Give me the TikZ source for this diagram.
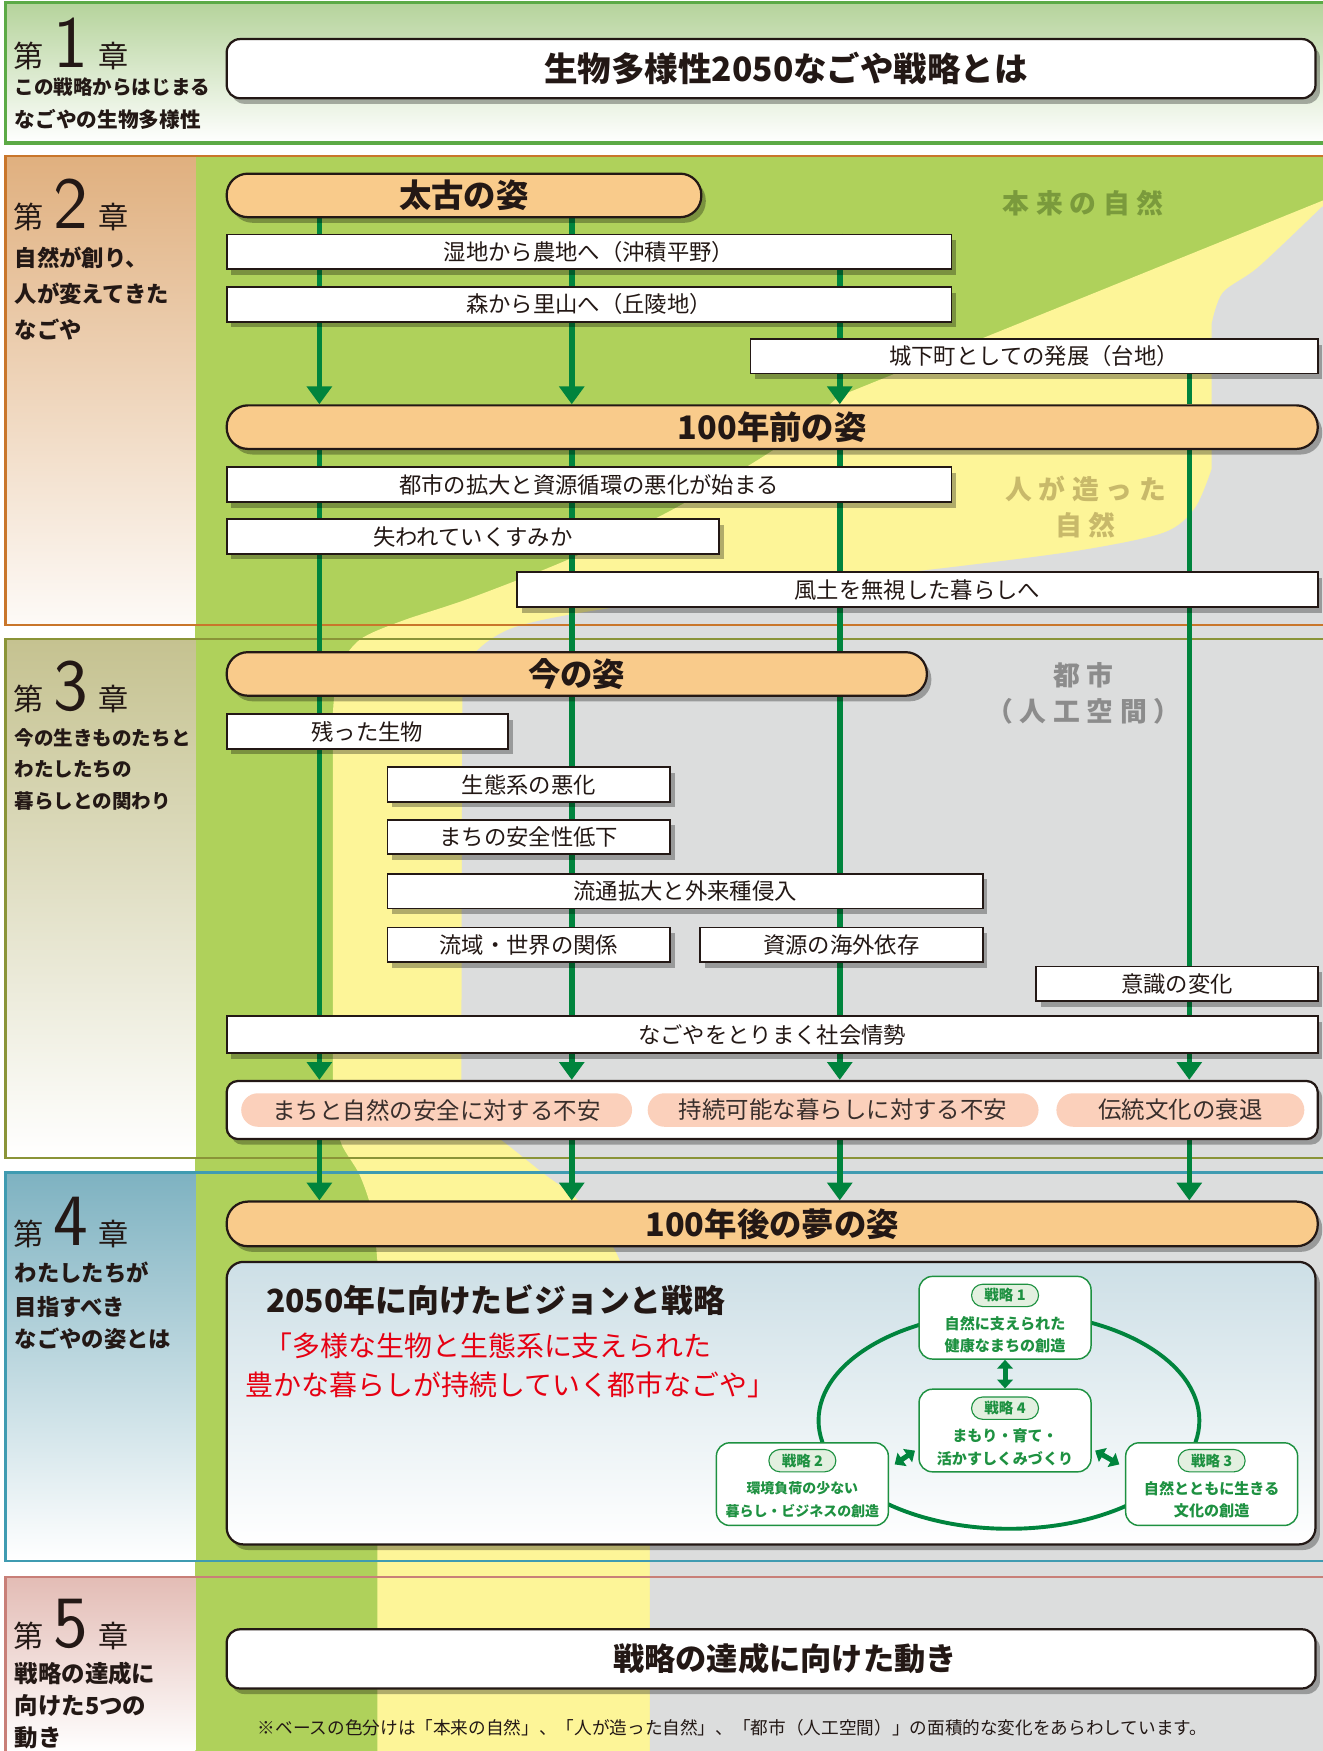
\documentclass[tikz,border=0pt]{standalone}
\usepackage{fontspec}
\setmainfont{Noto Sans CJK JP}
\usetikzlibrary{arrows.meta,shadows}
\pgfdeclarelayer{backdrop}
\pgfdeclarelayer{flowlayer}
\pgfsetlayers{backdrop,flowlayer,main}

\definecolor{natgreen}{HTML}{AFD15B}
\definecolor{manyellow}{HTML}{FDF598}
\definecolor{citygray}{HTML}{DCDDDD}
\definecolor{flowgreen}{HTML}{00843D}
\definecolor{stageorange}{HTML}{F9CB8B}
\definecolor{worrypink}{HTML}{FBD0BB}
\definecolor{inkdark}{HTML}{231815}
\definecolor{chaponeline}{HTML}{5CAA46}
\definecolor{chaponefill}{HTML}{B5D39B}
\definecolor{chaptwoline}{HTML}{C9762B}
\definecolor{chaptwofill}{HTML}{E0B07F}
\definecolor{chapthreeline}{HTML}{8A9438}
\definecolor{chapthreefill}{HTML}{C5C290}
\definecolor{chapfourline}{HTML}{3F9BB1}
\definecolor{chapfourfill}{HTML}{7EB2C1}
\definecolor{chapfiveline}{HTML}{C87F78}
\definecolor{chapfivefill}{HTML}{E3BCB5}
\definecolor{stratgreen}{HTML}{1E9141}
\definecolor{stratpale}{HTML}{E3F0E0}
\definecolor{visionred}{HTML}{E60012}
\definecolor{visionblue}{HTML}{CDDFE6}
\definecolor{natlabel}{HTML}{7A9A3C}
\definecolor{manlabel}{HTML}{C8B96A}
\definecolor{citylabel}{HTML}{8C8C8C}

\newcommand\fsz[1]{\fontsize{#1}{#1}\selectfont}

\tikzset{
  boxshadow/.style={drop shadow={shadow xshift=4pt,shadow yshift=-5pt,fill=black,opacity=.3}},
  stagebox/.style={draw=inkdark,line width=2pt,fill=stageorange,rounded corners=19pt,
    minimum height=39pt,inner sep=0pt,boxshadow,font=\bfseries\fsz{29},text=inkdark},
  eventbox/.style={draw=inkdark,line width=1.6pt,fill=white,minimum height=31pt,
    inner sep=0pt,boxshadow,font=\fsz{20},text=inkdark},
  titlebox/.style={draw=inkdark,line width=2pt,fill=white,rounded corners=12pt,
    minimum height=53pt,inner sep=0pt,boxshadow,font=\bfseries\fsz{29},text=inkdark},
  worrypill/.style={fill=worrypink,rounded corners=15pt,minimum height=30pt,
    inner sep=0pt,font=\fsz{21},text=inkdark!90},
  flow/.style={line width=5pt,flowgreen},
  flowtip/.style={flow,-{Triangle[width=22pt,length=16pt]}},
  chaphead/.style={anchor=base west,inner sep=0pt,text=inkdark},
  chaptext/.style={anchor=west,inner sep=0pt,font=\bfseries\fsz{#1},text=inkdark},
  chaptext/.default=20,
  arealabel/.style={align=center,inner sep=0pt,
    font=\bfseries\fontsize{24}{32}\selectfont\addfontfeature{LetterSpace=25}},
  stratbox/.style={draw=stratgreen,line width=1.3pt,fill=white,rounded corners=12pt,
    minimum width=154pt,minimum height=74pt,inner sep=0pt},
  stratlabel/.style={draw=stratgreen,line width=1pt,fill=stratpale,rounded corners=10pt,
    minimum width=60pt,minimum height=20pt,inner sep=0pt,font=\bfseries\fsz{13},text=stratgreen},
  strattext/.style={align=center,inner sep=0pt,font=\bfseries\fontsize{13.5}{20}\selectfont,
    text=stratgreen},
  stratlink/.style={line width=4.5pt,flowgreen,
    {Triangle[width=14pt,length=8pt]}-{Triangle[width=14pt,length=8pt]}}
}

\begin{document}
\begin{tikzpicture}[x=1pt,y=-1pt]
\useasboundingbox (0,0) rectangle (1184,1568);

\begin{pgfonlayer}{backdrop}
  % chapter 1 band
  \shade[top color=chaponefill,bottom color=white] (5,2) rectangle (1190,128);
  \draw[chaponeline,line width=3pt] (5,2) rectangle (1190,128);
  % base colours
  \fill[natgreen] (175,140) rectangle (1190,1570);
  \fill[manyellow] (1186,179) -- (751,355)
    -- plot[smooth] coordinates {(751,355) (697,400) (601,457) (509,501) (420,536) (360,556) (322,573) (303,600) (298,640)}
    -- (298,995)
    -- plot[smooth] coordinates {(298,995) (306,1025) (322,1052) (333,1085) (338,1130)}
    -- (338,1570) -- (1190,1570) -- cycle;
  \fill[citygray] (1190,185)
    -- plot[smooth] coordinates {(1184,185) (1127,239) (1095,262) (1085,290)}
    -- (1085,420)
    -- plot[smooth] coordinates {(1085,420) (1070,455) (1042,477) (966,493) (851,508) (700,525) (537,546) (460,562) (425,585) (414,615)}
    -- (413,995)
    -- plot[smooth] coordinates {(413,995) (430,1010) (449,1021) (487,1051) (518,1075) (552,1122) (575,1190) (582,1260)}
    -- (582,1570) -- (1190,1570) -- cycle;
  % chapter panels
  \shade[top color=chaptwofill,bottom color=chaptwofill!6] (5,140) rectangle (175,560);
  \shade[top color=chapthreefill,bottom color=white] (5,572) rectangle (175,1037);
  \shade[top color=chapfourfill,bottom color=white] (5,1050) rectangle (175,1398);
  \shade[top color=chapfivefill,bottom color=white] (5,1412) rectangle (175,1570);
  \draw[chaptwoline,line width=2pt] (5,140) rectangle (1190,560);
  \draw[chapthreeline,line width=2pt] (5,572) rectangle (1190,1037);
  \draw[chapfourline,line width=2pt] (5,1050) rectangle (1190,1398);
  \draw[chapfiveline,line width=2pt] (5,1412) rectangle (1190,1575);
  % area names
  \node[arealabel,text=natlabel] (natname) at (970,182) {本来の自然};
  \node[arealabel,text=manlabel] (manname) at (972,454) {人が造った\\自然};
  \node[arealabel,text=citylabel] (cityname) at (970,621) {都市\\（人工空間）};
\end{pgfonlayer}

% chapter headings
\node[chaphead] (chone) at (12,60) {{\fsz{27}第}\hspace{9pt}{\sffamily\fsz{66}1}\hspace{9pt}{\fsz{27}章}};
\node[chaptext=17.5] (chonea) at (13,78) {この戦略からはじまる};
\node[chaptext=18.5] (choneb) at (13,107) {なごやの生物多様性};
\node[chaphead] (chtwo) at (12,205) {{\fsz{27}第}\hspace{9pt}{\sffamily\fsz{66}2}\hspace{9pt}{\fsz{27}章}};
\node[chaptext] (chtwoa) at (13,231) {自然が創り、};
\node[chaptext] (chtwob) at (13,263) {人が変えてきた};
\node[chaptext] (chtwoc) at (13,295) {なごや};
\node[chaphead] (chthree) at (12,636) {{\fsz{27}第}\hspace{9pt}{\sffamily\fsz{66}3}\hspace{9pt}{\fsz{27}章}};
\node[chaptext=17.5] (chthreea) at (13,661) {今の生きものたちと};
\node[chaptext=17.5] (chthreeb) at (13,689) {わたしたちの};
\node[chaptext=17.5] (chthreec) at (13,717) {暮らしとの関わり};
\node[chaphead] (chfour) at (12,1115) {{\fsz{27}第}\hspace{9pt}{\sffamily\fsz{66}4}\hspace{9pt}{\fsz{27}章}};
\node[chaptext] (chfoura) at (13,1140) {わたしたちが};
\node[chaptext] (chfourb) at (13,1170) {目指すべき};
\node[chaptext] (chfourc) at (13,1199) {なごやの姿とは};
\node[chaphead] (chfive) at (12,1475) {{\fsz{27}第}\hspace{9pt}{\sffamily\fsz{66}5}\hspace{9pt}{\fsz{27}章}};
\node[chaptext=21] (chfivea) at (13,1499) {戦略の達成に};
\node[chaptext=21] (chfiveb) at (13,1527) {向けた5つの};
\node[chaptext=21] (chfivec) at (13,1556) {動き};

% columns of the flows
\coordinate (colA) at (286,0);
\coordinate (colB) at (512,0);
\coordinate (colC) at (752,0);
\coordinate (colD) at (1065,0);

\node[titlebox,minimum width=975pt,font=\bfseries\fsz{30}] (goal) at (690.5,61.5) {\hspace*{27pt}生物多様性2050なごや戦略とは};

\node[stagebox,minimum width=425pt] (ancient) at (415.5,175) {太古の姿};
\node[eventbox,minimum width=649pt] (wetland) at (527.5,225.5) {湿地から農地へ（沖積平野）};
\node[eventbox,minimum width=649pt] (forest) at (527.5,272.5) {森から里山へ（丘陵地）};
\node[eventbox,minimum width=508pt] (castle) at (926,319) {城下町としての発展（台地）};
\node[stagebox,minimum width=977pt] (century) at (691.5,382.5) {100年前の姿};
\node[eventbox,minimum width=649pt] (urban) at (527.5,434) {都市の拡大と資源循環の悪化が始まる};
\node[eventbox,minimum width=441pt] (habitat) at (423.5,480.5) {失われていくすみか};
\node[eventbox,minimum width=717pt] (climate) at (821.5,528) {風土を無視した暮らしへ};
\node[stagebox,minimum width=627pt] (present) at (516.5,603.5) {今の姿};
\node[eventbox,minimum width=252pt] (remain) at (329,655) {残った生物};
\node[eventbox,minimum width=253pt] (ecosys) at (473.5,702.5) {生態系の悪化};
\node[eventbox,minimum width=253pt] (safety) at (473.5,749.5) {まちの安全性低下};
\node[eventbox,minimum width=533pt] (trade) at (613.5,798) {流通拡大と外来種侵入};
\node[eventbox,minimum width=253pt] (basin) at (473.5,846) {流域・世界の関係};
\node[eventbox,minimum width=253pt] (resource) at (753.5,846) {資源の海外依存};
\node[eventbox,minimum width=252pt] (mind) at (1054,881) {意識の変化};
\node[eventbox,minimum width=977pt,minimum height=33pt] (society) at (691.5,926.5) {なごやをとりまく社会情勢};

\node[draw=inkdark,line width=2pt,fill=white,rounded corners=10pt,minimum width=977pt,
  minimum height=52pt,boxshadow] (worry) at (691.5,994) {};
\node[worrypill,minimum width=350pt] (worrysafe) at (391,994) {まちと自然の安全に対する不安};
\node[worrypill,minimum width=350pt] (worrylife) at (755,994) {持続可能な暮らしに対する不安};
\node[worrypill,minimum width=222pt] (worryculture) at (1057,994) {伝統文化の衰退};

\node[stagebox,minimum width=977pt,minimum height=40pt] (dream) at (691.5,1096) {100年後の夢の姿};

\node[draw=inkdark,line width=2pt,rounded corners=15pt,minimum width=975pt,minimum height=253pt,
  top color=visionblue,bottom color=white,boxshadow] (vision) at (690.5,1256.5) {};
\node[anchor=west,inner sep=0pt,font=\bfseries\fsz{28.5},text=inkdark] (visiontitle) at (238,1164) {2050年に向けたビジョンと戦略};
\node[anchor=west,inner sep=0pt,font=\fsz{25},text=visionred] (visionone) at (237,1205) {「多様な生物と生態系に支えられた};
\node[anchor=west,inner sep=0pt,font=\fsz{25},text=visionred] (visiontwo) at (220,1240) {豊かな暮らしが持続していく都市なごや」};

\draw[flowgreen,line width=3.5pt] (903.5,1272) ellipse [x radius=170.5,y radius=97];
\node[stratbox] (sone) at (900,1180) {};
\node[stratlabel] (sonelabel) at (900,1160) {戦略 1};
\node[strattext] (sonetext) at (900,1195) {自然に支えられた\\健康なまちの創造};
\node[stratbox] (sfour) at (900,1281) {};
\node[stratlabel] (sfourlabel) at (900,1261) {戦略 4};
\node[strattext] (sfourtext) at (900,1296) {まもり・育て・\\活かすしくみづくり};
\node[stratbox] (stwo) at (718.5,1329) {};
\node[stratlabel] (stwolabel) at (718.5,1308) {戦略 2};
\node[strattext,font=\bfseries\fontsize{12.5}{20}\selectfont] (stwotext) at (718.5,1343) {環境負荷の少ない\\暮らし・ビジネスの創造};
\node[stratbox] (sthree) at (1085,1329) {};
\node[stratlabel] (sthreelabel) at (1085,1308) {戦略 3};
\node[strattext] (sthreetext) at (1085,1343) {自然とともに生きる\\文化の創造};
\draw[stratlink] (sone.south) -- (sfour.north);
\draw[stratlink] ([shift={(-3,18)}]sfour.west) -- ([shift={(5,20)}]stwo.north east);
\draw[stratlink] ([shift={(3,18)}]sfour.east) -- ([shift={(-5,20)}]sthree.north west);

\node[titlebox,minimum width=975pt,font=\bfseries\fsz{28}] (action) at (690.5,1485.5) {\hspace*{25pt}戦略の達成に向けた動き};
\node[inner sep=0pt,font=\fsz{15.8},text=inkdark] (note) at (656,1547) {※ベースの色分けは「本来の自然」、「人が造った自然」、「都市（人工空間）」の面積的な変化をあらわしています。};

\begin{pgfonlayer}{flowlayer}
  \draw[flowtip] (ancient.south -| colA) -- (century.north -| colA);
  \draw[flowtip] (ancient.south -| colB) -- (century.north -| colB);
  \draw[flowtip] (wetland.north -| colC) -- (century.north -| colC);
  \draw[flow] (castle.north -| colD) -- (century.north -| colD);
  \foreach \col in {colA,colB,colC,colD}{
    \draw[flowtip] (century.south -| \col) -- (worry.north -| \col);
    \draw[flowtip] (worry.south -| \col) -- (dream.north -| \col);
  }
\end{pgfonlayer}
\end{tikzpicture}
\end{document}
